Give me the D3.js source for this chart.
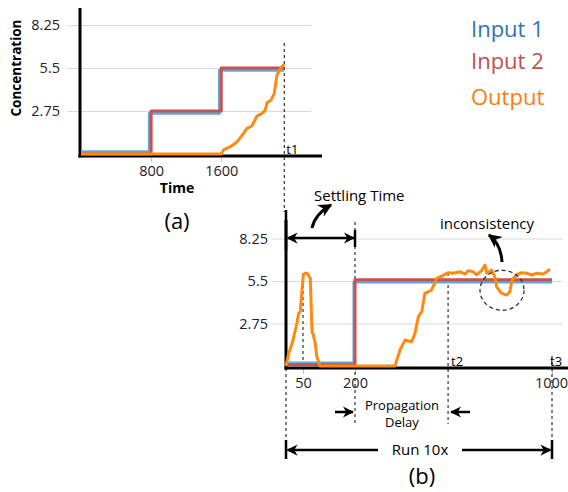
<!DOCTYPE html>
<html>
<head>
<meta charset="utf-8">
<script src="https://cdn.jsdelivr.net/npm/d3@7"></script>
<style>
  body { margin: 0; background: #fff; }
  svg { display: block; }
</style>
</head>
<body>
<div id="chart"></div>
<script>
// ---- data ----
const seriesNames = ['Input 1', 'Input 2', 'Output'];
const yTicks = [2.75, 5.5, 8.25];

// panel (a): [time, concentration], inputs are steps
const aTicksX = [800, 1600];
const aT1 = 2320;
const aInput1 = [[0, 0.15], [780, 2.6], [1580, 5.35], [2320, 5.35]];
const aInput2 = [[0, 0], [800, 2.75], [1600, 5.5], [2320, 5.5]];
const aOutput = [[0, 0], [1600, 0], [1627, 0.26], [1703, 0.47], [1760, 0.68], [1798, 0.9],
  [1855, 1.32], [1893, 1.64], [1950, 1.79], [2008, 2.43], [2065, 2.6], [2103, 2.81],
  [2122, 3.28], [2168, 3.45], [2206, 3.88], [2236, 5.05], [2266, 5.37], [2293, 5.58], [2320, 5.74]];

// panel (b)
const bTicksX = [50, 200, 1000];
const bT2 = 578, bT3 = 1000;
const bInput1 = [[0, 0.2], [197, 5.43], [1000, 5.43]];
const bInput2 = [[0, 0.08], [200, 5.58], [1000, 5.58]];
const bOutput = [[0, 0], [8, 0.82], [18, 1.47], [32, 2.76], [37, 3.41], [42, 3.51], [47, 4.92],
  [51, 5.89], [56, 6.0], [62, 6.0], [71, 5.67], [76, 2.22], [80, 2.0], [85, 1.5], [90, 0.6],
  [99, 0], [362, 0], [383, 1.04], [403, 1.68], [430, 1.57], [444, 2.13], [457, 3.19],
  [471, 3.51], [484, 4.7], [511, 4.92], [532, 5.67], [552, 5.82], [579, 6.04], [599, 6.0],
  [626, 6.1], [647, 5.95], [660, 6.17], [680, 6.1], [694, 5.89], [714, 6.17], [728, 6.53],
  [735, 6.0], [755, 6.21], [768, 5.78], [775, 5.13], [789, 4.81], [796, 4.7], [816, 4.59],
  [829, 4.81], [836, 5.45], [843, 5.67], [857, 5.89], [877, 6.04], [897, 6.0], [917, 5.89],
  [938, 6.0], [965, 5.95], [978, 6.1], [992, 6.26]];
const bGlitch = [797, 4.9];   // centre of the "inconsistency" circle

const lineColors = ['#5fa8dc', '#c9504f', '#ff8a12'];
const textColors = ['#2e74b5', '#c0504d', '#ff7b0f'];
const font = '"Open Sans", sans-serif';

const svg = d3.select('#chart').append('svg')
  .attr('width', 568).attr('height', 492)
  .attr('font-family', font);

const defs = svg.append('defs');
defs.append('marker')
  .attr('id', 'head')
  .attr('viewBox', '0 0 10 10')
  .attr('refX', 9).attr('refY', 5)
  .attr('markerWidth', 4.5).attr('markerHeight', 4.5)
  .attr('markerUnits', 'strokeWidth')
  .attr('orient', 'auto-start-reverse')
  .append('path')
  .attr('d', 'M0,0 L10,5 L0,10 L3,5 Z')
  .attr('fill', '#000');

function gridAxis(g, y, x0, x1, pad) {
  g.attr('transform', `translate(${x0},0)`)
    .call(d3.axisLeft(y).tickValues(yTicks).tickSize(-(x1 - x0)).tickPadding(pad).tickFormat(d => d));
  g.select('.domain').remove();
  g.selectAll('line').attr('stroke', '#d9d9d9');
  g.selectAll('text').attr('font-size', 14.5).attr('font-family', font).attr('fill', '#222');
}

function bottomAxis(g, x, yPos, ticks) {
  g.attr('transform', `translate(0,${yPos})`)
    .call(d3.axisBottom(x).tickValues(ticks).tickSize(6).tickPadding(4).tickFormat(d => d));
  g.select('.domain').remove();
  g.selectAll('line').attr('stroke', '#bbb');
  g.selectAll('text').attr('font-size', 14.5).attr('font-family', font).attr('fill', '#222');
}

function dashed(x, y1, y2) {
  svg.append('line')
    .attr('x1', x).attr('x2', x).attr('y1', y1).attr('y2', y2)
    .attr('stroke', '#333').attr('stroke-width', 1.2)
    .attr('stroke-dasharray', '3,3');
}

function drawSeries(x, y, data, i, curve) {
  svg.append('path')
    .datum(data)
    .attr('fill', 'none')
    .attr('stroke', lineColors[i])
    .attr('stroke-width', 3)
    .attr('stroke-linejoin', 'round')
    .attr('d', d3.line().x(d => x(d[0])).y(d => y(d[1])).curve(curve));
}

// ---------------- panel (a) ----------------
const xA = d3.scaleLinear().domain([0, 2750]).range([81, 322]);
const yA = d3.scaleLinear().domain([0, 8.25]).range([154, 25]);

gridAxis(svg.append('g'), yA, 67, 311, 7);
bottomAxis(svg.append('g'), xA, 156, aTicksX);

dashed(xA(aT1), 43, 212);

svg.append('line').attr('x1', 80).attr('x2', 80).attr('y1', 8).attr('y2', 157.5)
  .attr('stroke', '#000').attr('stroke-width', 3);
svg.append('line').attr('x1', 78.5).attr('x2', 322).attr('y1', 156).attr('y2', 156)
  .attr('stroke', '#000').attr('stroke-width', 3);

drawSeries(xA, yA, aInput1, 0, d3.curveStepAfter);
drawSeries(xA, yA, aInput2, 1, d3.curveStepAfter);
drawSeries(xA, yA, aOutput, 2, d3.curveLinear);

svg.append('text').attr('x', xA(aT1) + 2).attr('y', 154)
  .attr('font-size', 13).text('t1');

svg.append('text')
  .attr('transform', 'translate(21,68) rotate(-90)')
  .attr('text-anchor', 'middle')
  .attr('font-size', 13.5).attr('font-weight', 'bold')
  .text('Concentration');
svg.append('text').attr('x', 177).attr('y', 193)
  .attr('text-anchor', 'middle').attr('font-size', 14).attr('font-weight', 'bold')
  .text('Time');
svg.append('text').attr('x', 177).attr('y', 229)
  .attr('text-anchor', 'middle').attr('font-size', 22).text('(a)');

// legend
svg.selectAll('.legend')
  .data(seriesNames)
  .join('text')
  .attr('x', 471)
  .attr('y', (d, i) => [37, 69, 105][i])
  .attr('font-size', 22)
  .attr('fill', (d, i) => textColors[i])
  .text(d => d);

// ---------------- panel (b) ----------------
const xB = d3.scaleLinear().domain([0, 50, 200, 1000]).range([286, 303, 355, 552]);
const yB = d3.scaleLinear().domain([0, 8.25]).range([366, 238.5]);

gridAxis(svg.append('g'), yB, 272, 563, 4);
const bx = svg.append('g');
bottomAxis(bx, xB, 368, bTicksX);
bx.selectAll('text').filter(d => d === 1000).attr('dx', -1);

dashed(xB(0), 212, 447);
dashed(xB(50), 273, 366);
dashed(xB(200), 222, 424);
dashed(xB(bT2), 273, 424);
dashed(xB(bT3), 356, 447);

svg.append('line').attr('x1', 286).attr('x2', 286).attr('y1', 220).attr('y2', 369.5)
  .attr('stroke', '#000').attr('stroke-width', 3);
svg.append('line').attr('x1', 284.5).attr('x2', 568).attr('y1', 368).attr('y2', 368)
  .attr('stroke', '#000').attr('stroke-width', 3);

drawSeries(xB, yB, bInput1, 0, d3.curveStepAfter);
drawSeries(xB, yB, bInput2, 1, d3.curveStepAfter);
drawSeries(xB, yB, bOutput, 2, d3.curveLinear);

svg.append('text').attr('x', xB(bT2) + 3).attr('y', 366).attr('font-size', 13).text('t2');
svg.append('text').attr('x', xB(bT3) - 2).attr('y', 366).attr('font-size', 13).text('t3');

// inconsistency circle
svg.append('ellipse')
  .attr('cx', xB(bGlitch[0])).attr('cy', yB(bGlitch[1]))
  .attr('rx', 22).attr('ry', 20)
  .attr('fill', 'none').attr('stroke', '#333').attr('stroke-width', 1.3)
  .attr('stroke-dasharray', '4,3');

// annotations
function arrowLine(x1, y1, x2, y2, both) {
  const l = svg.append('line')
    .attr('x1', x1).attr('y1', y1).attr('x2', x2).attr('y2', y2)
    .attr('stroke', '#000').attr('stroke-width', 2.5)
    .attr('marker-end', 'url(#head)');
  if (both) l.attr('marker-start', 'url(#head)');
}
function bar(x, y1, y2) {
  svg.append('line').attr('x1', x).attr('x2', x).attr('y1', y1).attr('y2', y2)
    .attr('stroke', '#000').attr('stroke-width', 2.5);
}
function curvedArrow(p0, c, p1) {
  svg.append('path')
    .attr('d', `M${p0[0]},${p0[1]} Q${c[0]},${c[1]} ${p1[0]},${p1[1]}`)
    .attr('fill', 'none').attr('stroke', '#000').attr('stroke-width', 3)
    .attr('marker-end', 'url(#head)');
}

// settling time
arrowLine(287.5, 238, 354, 238, true);
bar(355, 230, 247);
bar(286, 210, 250);
curvedArrow([312, 228], [315, 214], [331, 205]);
svg.append('text').attr('x', 314).attr('y', 201).attr('font-size', 15).text('Settling Time');

// inconsistency
curvedArrow([502, 262], [501, 244], [489, 235]);
svg.append('text').attr('x', 487).attr('y', 229).attr('text-anchor', 'middle')
  .attr('font-size', 15).text('inconsistency');

// propagation delay
arrowLine(335, 412, 353, 412, false);
arrowLine(470, 412, 451, 412, false);
svg.append('text').attr('x', 402).attr('y', 410).attr('text-anchor', 'middle')
  .attr('font-size', 13).text('Propagation');
svg.append('text').attr('x', 402).attr('y', 427).attr('text-anchor', 'middle')
  .attr('font-size', 13).text('Delay');

// run 10x
bar(286, 440, 459);
bar(552, 440, 459);
arrowLine(378, 450, 287.5, 450, false);
arrowLine(462, 450, 550.5, 450, false);
svg.append('text').attr('x', 420).attr('y', 455).attr('text-anchor', 'middle')
  .attr('font-size', 15).text('Run 10x');

svg.append('text').attr('x', 422).attr('y', 484).attr('text-anchor', 'middle')
  .attr('font-size', 22).text('(b)');
</script>
</body>
</html>
